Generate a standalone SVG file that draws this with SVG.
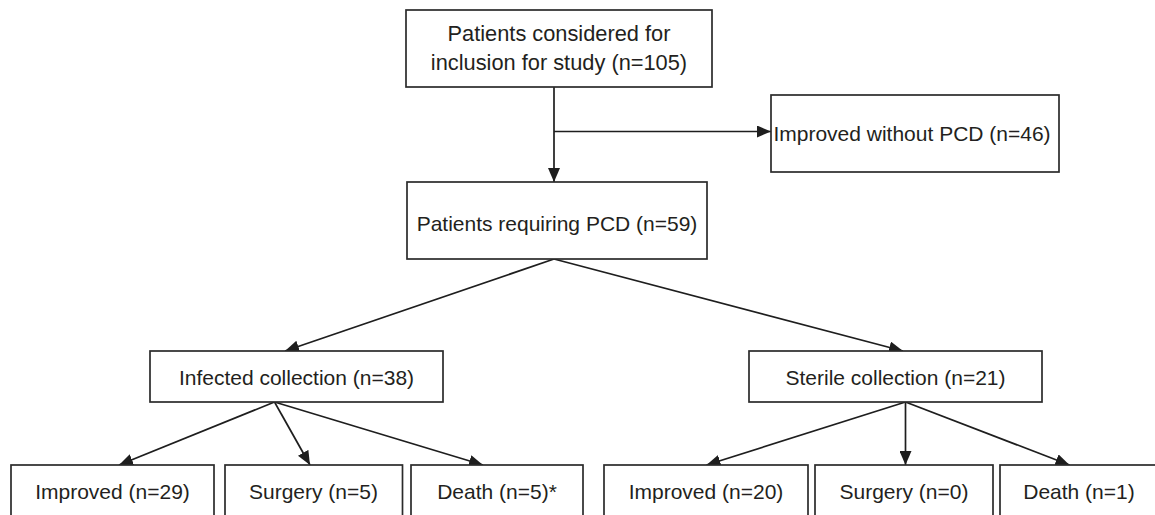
<svg xmlns="http://www.w3.org/2000/svg" width="1155" height="515" viewBox="0 0 1155 515">
<style>
.box{fill:#fff;stroke:#2b2b2b;stroke-width:1.7}
.t{font-family:"Liberation Sans",Arial,sans-serif;font-size:21px;fill:#231f20;text-anchor:middle}
.tl{font-size:21.8px}
.c{stroke:#1e1e1e;stroke-width:1.7;fill:none;marker-end:url(#ah)}
</style>
<defs>
<marker id="ah" viewBox="0 0 14 12" refX="14" refY="6" markerWidth="14" markerHeight="12" markerUnits="userSpaceOnUse" orient="auto">
<path d="M0,0 L14,6 L0,12 Z" fill="#1e1e1e"/>
</marker>
</defs>
<rect width="1155" height="515" fill="#fff"/>
<g id="connectors">
<line class="c" x1="554" y1="87" x2="554" y2="182"/>
<line class="c" x1="554" y1="131.5" x2="771" y2="131.5"/>
<line class="c" x1="554" y1="259" x2="285" y2="351"/>
<line class="c" x1="554" y1="259" x2="903" y2="351"/>
<line class="c" x1="274.5" y1="402" x2="119" y2="465"/>
<line class="c" x1="274.5" y1="402" x2="310" y2="465"/>
<line class="c" x1="274.5" y1="402" x2="483" y2="465"/>
<line class="c" x1="905.5" y1="402" x2="706.5" y2="465"/>
<line class="c" x1="905.5" y1="402" x2="905.5" y2="465"/>
<line class="c" x1="905.5" y1="402" x2="1069.5" y2="465"/>
</g>
<g id="n-considered">
<rect class="box" x="406" y="10" width="306" height="77"/>
<text class="t tl" x="559" y="40.5">Patients considered for</text>
<text class="t tl" x="559" y="69.5">inclusion for study (n=105)</text>
</g>
<g id="n-improved-without">
<rect class="box" x="771" y="95" width="288" height="77"/>
<text class="t" x="912" y="140.5">Improved without PCD (n=46)</text>
</g>
<g id="n-requiring">
<rect class="box" x="407" y="182" width="300" height="77"/>
<text class="t" x="557" y="230.5">Patients requiring PCD (n=59)</text>
</g>
<g id="n-infected">
<rect class="box" x="150" y="351" width="293" height="51"/>
<text class="t" x="296.5" y="384.5">Infected collection (n=38)</text>
</g>
<g id="n-sterile">
<rect class="box" x="749" y="351" width="293" height="51"/>
<text class="t" x="895.5" y="384.5">Sterile collection (n=21)</text>
</g>
<g id="n-inf-improved">
<rect class="box" x="11" y="465" width="203" height="60"/>
<text class="t" x="112.5" y="498.5">Improved (n=29)</text>
</g>
<g id="n-inf-surgery">
<rect class="box" x="225" y="465" width="177.5" height="60"/>
<text class="t" x="313.5" y="498.5">Surgery (n=5)</text>
</g>
<g id="n-inf-death">
<rect class="box" x="411" y="465" width="172" height="60"/>
<text class="t" x="497" y="498.5">Death (n=5)*</text>
</g>
<g id="n-ster-improved">
<rect class="box" x="604" y="465" width="204" height="60"/>
<text class="t" x="706" y="498.5">Improved (n=20)</text>
</g>
<g id="n-ster-surgery">
<rect class="box" x="815" y="465" width="178" height="60"/>
<text class="t" x="904" y="498.5">Surgery (n=0)</text>
</g>
<g id="n-ster-death">
<rect class="box" x="1000" y="465" width="170" height="60"/>
<text class="t" x="1079" y="498.5">Death (n=1)</text>
</g>
</svg>
